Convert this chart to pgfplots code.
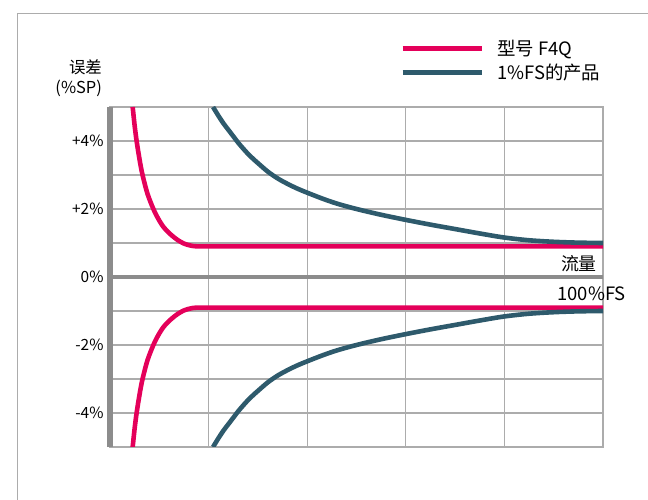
\documentclass[border=0pt]{standalone}
\usepackage{pgfplots}
\pgfplotsset{compat=1.18}
\usepackage{fontspec}
\setmainfont{Noto Sans CJK SC}
\definecolor{f4q}{RGB}{228,0,90}
\definecolor{fsline}{RGB}{46,90,108}
\definecolor{gridgray}{RGB}{172,172,172}
\definecolor{axgray}{RGB}{140,140,140}

\begin{document}
\begin{tikzpicture}
\useasboundingbox (0,0) rectangle (648bp,500bp);
\draw[gridgray, line width=1.2bp] (17.5bp,0bp) -- (17.5bp,486.5bp) -- (648bp,486.5bp);
\begin{axis}[
    at={(110bp,53bp)}, anchor=south west,
    width=493bp, height=340bp, scale only axis,
    xmin=0, xmax=100, ymin=-5, ymax=5,
    xtick={0,20,...,100}, xticklabels={},
    ytick={-5,-4,...,5},
    yticklabels={,-4\%,,-2\%,,0\%,,+2\%,,+4\%,},
    yticklabel style={font=\fontsize{15.5}{17}\selectfont, xshift=-3bp},
    tick style={draw=none},
    grid=major,
    grid style={gridgray, line width=1.1bp},
    axis line style={gridgray, line width=1.1bp},
    clip mode=individual,
    legend style={at={(axis description cs:0.582,1.137)}, anchor=west,
        draw=none, fill=none, font=\fontsize{18.5}{21}\selectfont,
        row sep=3bp, column sep=11bp},
    legend cell align=left,
    legend image code/.code={\draw[#1, line width=5bp] (0bp,0bp) -- (79bp,0bp);},
]
% model F4Q, upper limit
\addplot[f4q, line width=4.6bp, smooth] coordinates {
    (4.6,5.0) (5.0,4.45) (5.4,4.0) (6.0,3.45) (6.6,3.0) (7.6,2.45) (8.8,2.0)
    (9.8,1.71) (10.8,1.48) (11.8,1.32) (12.8,1.19) (13.8,1.08) (14.9,0.99)
    (15.9,0.94) (16.9,0.91) (18,0.9) (20,0.9) (30,0.9) (50,0.9) (70,0.9) (100,0.9)};
\addlegendentry{型号 F4Q}
% 1 %FS product, upper limit
\addplot[fsline, line width=4.6bp, smooth] coordinates {
    (20.9,5.0) (22,4.74) (23,4.52) (24,4.33) (25,4.14) (26,3.95) (27,3.78)
    (28,3.62) (29,3.48) (30,3.35) (32,3.10) (34,2.90) (36,2.74) (38,2.60)
    (40,2.48) (43,2.31) (46,2.16) (50,2.00) (55,1.83) (60,1.68) (65,1.54)
    (70,1.41) (75,1.28) (80,1.16) (85,1.08) (90,1.035) (95,1.01) (100,1.0)};
\addlegendentry{1\%FS的产品}
% lower limits
\addplot[f4q, line width=4.6bp, smooth, forget plot] coordinates {
    (4.6,-5.0) (5.0,-4.45) (5.4,-4.0) (6.0,-3.45) (6.6,-3.0) (7.6,-2.45) (8.8,-2.0)
    (9.8,-1.71) (10.8,-1.48) (11.8,-1.32) (12.8,-1.19) (13.8,-1.08) (14.9,-0.99)
    (15.9,-0.94) (16.9,-0.91) (18,-0.9) (20,-0.9) (30,-0.9) (50,-0.9) (70,-0.9) (100,-0.9)};
\addplot[fsline, line width=4.6bp, smooth, forget plot] coordinates {
    (20.9,-5.0) (22,-4.74) (23,-4.52) (24,-4.33) (25,-4.14) (26,-3.95) (27,-3.78)
    (28,-3.62) (29,-3.48) (30,-3.35) (32,-3.10) (34,-2.90) (36,-2.74) (38,-2.60)
    (40,-2.48) (43,-2.31) (46,-2.16) (50,-2.00) (55,-1.83) (60,-1.68) (65,-1.54)
    (70,-1.41) (75,-1.28) (80,-1.16) (85,-1.08) (90,-1.035) (95,-1.01) (100,-1.0)};
\draw[axgray, line width=5bp] (axis cs:0,-5) -- (axis cs:0,5);
\draw[axgray, line width=4.5bp] (axis cs:0,0) -- (axis cs:100,0);
\node[anchor=east, align=right, inner sep=0pt, font=\fontsize{16.5}{20}\selectfont]
    at (axis description cs:-0.016,1.085) {误差\\(\%SP)};
\node[anchor=east, inner sep=0pt, font=\fontsize{18}{20}\selectfont]
    at (axis cs:98.8,0.38) {流量};
\node[anchor=west, inner sep=0pt, font=\fontsize{18.5}{20}\selectfont]
    at (axis cs:90.7,-0.49) {100\%FS};
\end{axis}
\end{tikzpicture}
\end{document}
